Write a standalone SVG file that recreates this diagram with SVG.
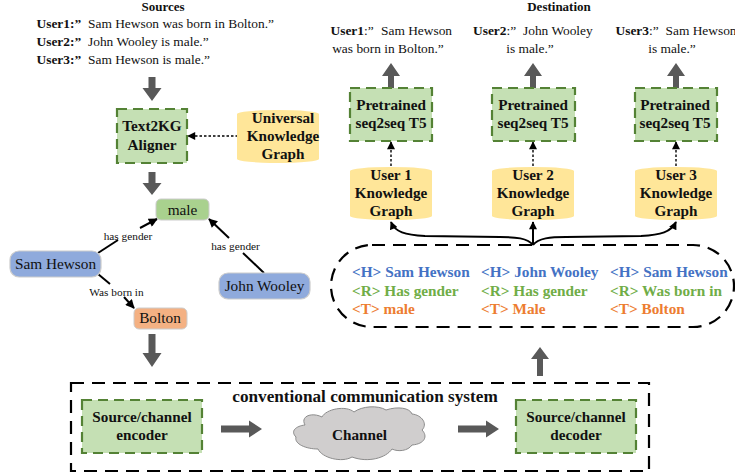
<svg xmlns="http://www.w3.org/2000/svg" width="735" height="474" viewBox="0 0 735 474">
<style>
text{font-family:"Liberation Serif","Times New Roman",serif;fill:#111}
.b{font-weight:bold}
.c{text-anchor:middle}
.s{font-size:13.4px}
.n{font-size:15.2px;font-weight:bold;text-anchor:middle}
.k{font-size:15.3px;text-anchor:middle}
.e{font-size:11.3px;text-anchor:middle}
.t{font-size:15.3px;font-weight:bold}
.g{fill:#c5e0b4;stroke:#548235;stroke-width:2.2;stroke-dasharray:10 6}
.y{fill:#ffe699}
.rb{fill:#8faadc;stroke:#ccc;stroke-width:1.2}
.h{fill:#4472c4}.r{fill:#70ad47}.o{fill:#ed7d31}
.fat{fill:#595959}
.ln{fill:none;stroke:#000;stroke-width:2}
.dot{fill:none;stroke:#000;stroke-width:1.4;stroke-dasharray:2.5 2}
.dash{fill:none;stroke:#000;stroke-width:2.2;stroke-dasharray:13 8}
</style>
<defs>
<marker id="a" viewBox="0 0 10 10" refX="9" refY="5" markerWidth="9" markerHeight="8" markerUnits="userSpaceOnUse" orient="auto"><path d="M0 0L10 5L0 10z" fill="#000"/></marker>
<marker id="b" viewBox="0 0 10 10" refX="9" refY="5" markerWidth="11" markerHeight="9" markerUnits="userSpaceOnUse" orient="auto"><path d="M0 0L10 5L0 10z" fill="#000"/></marker>
<path id="cyl" d="M0 4A41 4 0 0 1 82 4V49A41 4 0 0 1 0 49z"/>
</defs>
<g id="connectors">
<path class="fat" d="M148.500 77h7v11h6l-9.500 13l-9.500-13h6z"/>
<path class="fat" d="M148.500 172h7v11h6l-9.500 12l-9.500-12h6z"/>
<path class="fat" d="M148.500 334h7v19h6l-9.500 14l-9.500-14h6z"/>
<path class="fat" d="M388 88v-12h-6l9-13l9 13h-6v12z"/>
<path class="fat" d="M530 88v-12h-6l9-13l9 13h-6v12z"/>
<path class="fat" d="M673 88v-12h-6l9-13l9 13h-6v12z"/>
<path class="fat" d="M537 376v-17h-6l9-12l9 12h-6v17z"/>
<path class="fat" d="M221 425.500h28v-5l13 8.500l-13 8.500v-5h-28z"/>
<path class="fat" d="M458 425.500h28v-5l13 8.500l-13 8.500v-5h-28z"/>
<path class="dot" d="M238 136H188" marker-end="url(#a)"/>
<path class="dot" d="M391 166V142" marker-end="url(#a)"/>
<path class="dot" d="M533 166V142" marker-end="url(#a)"/>
<path class="dot" d="M676 166V142" marker-end="url(#a)"/>
<path class="ln" d="M98 253L118 240"/>
<path class="ln" d="M140 228L157 219" marker-end="url(#b)"/>
<path class="ln" d="M264 273L243 253"/>
<path class="ln" d="M229 238L209 219" marker-end="url(#b)"/>
<path class="ln" d="M98 274L110 284"/>
<path class="ln" d="M124 297L134 308" marker-end="url(#b)"/>
<path class="ln" d="M533 245C528 238 515 237 500 237L425 236C405 235 395 232 391 222" marker-end="url(#a)"/>
<path class="ln" d="M533 245V222" marker-end="url(#a)"/>
<path class="ln" d="M533 245C538 238 551 237 566 237L641 236C661 235 671 232 676 222" marker-end="url(#a)"/>
</g>
<g id="sources"><text class="b c" x="163" y="11" font-size="13">Sources</text></g>
<g id="src-lines" class="s">
<text x="36.500" y="28"><tspan class="b">User1:”</tspan><tspan x="88">Sam Hewson was born in Bolton.”</tspan></text>
<text x="36.500" y="46"><tspan class="b">User2:”</tspan><tspan x="88">John Wooley is male.”</tspan></text>
<text x="36.500" y="64"><tspan class="b">User3:”</tspan><tspan x="88">Sam Hewson is male.”</tspan></text>
</g>
<g id="aligner"><rect class="g" x="117" y="109" width="70" height="54"/><text class="n" x="152" y="131">Text2KG</text><text class="n" x="152" y="150">Aligner</text></g>
<g id="ukg"><use href="#cyl" x="237" y="110" class="y"/><text class="n" x="283" y="123">Universal</text><text class="n" x="283" y="141">Knowledge</text><text class="n" x="283" y="159">Graph</text></g>
<g id="male"><rect x="156" y="199" width="53" height="21" rx="5" fill="#a9d18e" stroke="#ccc"/><text class="k" x="182.500" y="215">male</text></g>
<g id="sam"><rect class="rb" x="10" y="251" width="91" height="26" rx="9"/><text class="k" x="55.500" y="269">Sam Hewson</text></g>
<g id="john"><rect class="rb" x="219" y="273" width="91" height="26" rx="9"/><text class="k" x="264.500" y="291">John Wooley</text></g>
<g id="bolton"><rect x="134" y="308" width="53" height="21" rx="5" fill="#f4b183" stroke="#ccc"/><text class="k" x="160" y="323">Bolton</text></g>
<g id="edge-labels">
<text class="e" x="128" y="240">has gender</text>
<text class="e" x="235.500" y="250">has gender</text>
<text class="e" x="116.500" y="295.500">Was born in</text>
</g>
<g id="destination"><text class="b c" x="559" y="11" font-size="13">Destination</text></g>
<g id="out1" class="s"><text x="330.500" y="35"><tspan class="b">User1</tspan>:”<tspan x="381">Sam Hewson</tspan></text><text class="c" x="388" y="53">was born in Bolton.”</text></g>
<g id="out2" class="s"><text x="473" y="35"><tspan class="b">User2</tspan>:”<tspan x="523">John Wooley</tspan></text><text class="c" x="530" y="53">is male.”</text></g>
<g id="out3" class="s"><text x="615.500" y="35"><tspan class="b">User3</tspan>:”<tspan x="665.500">Sam Hewson</tspan></text><text class="c" x="672" y="53">is male.”</text></g>
<g id="t5-1"><rect class="g" x="350" y="88" width="82" height="53"/><text class="n" x="391" y="110">Pretrained</text><text class="n" x="391" y="128">seq2seq T5</text></g>
<g id="t5-2"><rect class="g" x="492" y="88" width="83" height="53"/><text class="n" x="533" y="110">Pretrained</text><text class="n" x="533" y="128">seq2seq T5</text></g>
<g id="t5-3"><rect class="g" x="635" y="88" width="82" height="53"/><text class="n" x="675" y="110">Pretrained</text><text class="n" x="675" y="128">seq2seq T5</text></g>
<g id="kg1"><use href="#cyl" x="350" y="167" class="y"/><text class="n" x="391" y="180">User 1</text><text class="n" x="391" y="198">Knowledge</text><text class="n" x="391" y="216">Graph</text></g>
<g id="kg2"><use href="#cyl" x="492" y="167" class="y"/><text class="n" x="533" y="180">User 2</text><text class="n" x="533" y="198">Knowledge</text><text class="n" x="533" y="216">Graph</text></g>
<g id="kg3"><use href="#cyl" x="635" y="167" class="y"/><text class="n" x="676" y="180">User 3</text><text class="n" x="676" y="198">Knowledge</text><text class="n" x="676" y="216">Graph</text></g>
<g id="triples">
<rect class="dash" x="331" y="245" width="403" height="82" rx="41"/>
<text class="t h" x="352" y="277">&lt;H&gt; Sam Hewson</text>
<text class="t r" x="352" y="296">&lt;R&gt; Has gender</text>
<text class="t o" x="352" y="314">&lt;T&gt; male</text>
<text class="t h" x="481" y="277">&lt;H&gt; John Wooley</text>
<text class="t r" x="481" y="296">&lt;R&gt; Has gender</text>
<text class="t o" x="481" y="314">&lt;T&gt; Male</text>
<text class="t h" x="610" y="277">&lt;H&gt; Sam Hewson</text>
<text class="t r" x="610" y="296">&lt;R&gt; Was born in</text>
<text class="t o" x="610" y="314">&lt;T&gt; Bolton</text>
</g>
<g id="system">
<rect class="dash" x="71" y="383" width="578" height="88"/>
<text class="c b" x="365" y="402" font-size="17.200">conventional communication system</text>
</g>
<g id="encoder"><rect class="g" x="82" y="400" width="120" height="53"/><text class="n" x="142" y="422">Source/channel</text><text class="n" x="142" y="440">encoder</text></g>
<g id="decoder"><rect class="g" x="516" y="400" width="120" height="53"/><text class="n" x="576" y="422">Source/channel</text><text class="n" x="576" y="440">decoder</text></g>
<g id="channel"><path d="M305 425C300 416 312 412 322 417C326 409 346 405 354 412C362 406 378 405 386 410C398 406 410 408 412 414C422 415 428 424 422 430C428 436 425 444 412 445C408 451 398 452 392 449C386 458 368 463 352 457C342 463 322 458 318 449C306 449 294 444 296 437C290 431 296 426 305 425z" fill="#d0cece" stroke="#8c8c8c"/><text class="n" x="359.500" y="440">Channel</text></g>
</svg>
